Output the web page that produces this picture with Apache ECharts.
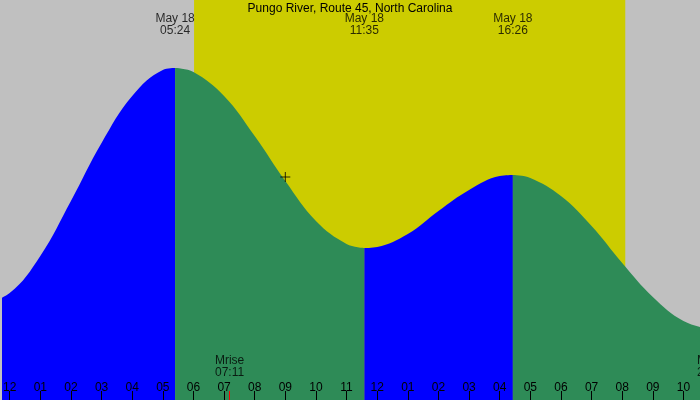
<!DOCTYPE html>
<html>
<head>
<meta charset="utf-8">
<script src="https://cdn.jsdelivr.net/npm/echarts@6/dist/echarts.min.js"></script>
<style>html,body{margin:0;padding:0;background:#c0c0c0}#chart{width:700px;height:400px}</style>
</head>
<body>
<div id="chart"></div>
<script>
// 潮位数据 (小时, 高度)
var rising1 = [[-1, 95], [0, 107], [1, 144], [2, 199], [3, 257], [4, 304], [5, 330], [5.4, 332]]
var falling1 = [[5.4, 332], [6, 328], [7, 304], [8, 264], [9, 219], [10, 179], [11, 156], [11.58, 152]]
var rising2 = [[11.58, 152], [12, 153], [13, 166], [14, 189], [15, 210], [16, 224], [16.43, 225]]
var falling2 = [[16.43, 225], [17, 222], [18, 204], [19, 174], [20, 137], [21, 103], [22, 79], [23, 70]]
var tideLabels = [[5.4, 'May 18\n05:24'], [11.58, 'May 18\n11:35'], [16.43, 'May 18\n16:26'], [22.9, 'May 18\n22:52']]
var hourTicks = [0, 1, 2, 3, 4, 5, 6, 7, 8, 9, 10, 11, 12, 13, 14, 15, 16, 17, 18, 19, 20, 21, 22]
var sunrise = 6.02, sunset = 20.1
var moonrise = 7.18, moonset = 22.44

var font = 'Liberation Sans'
var dom = document.getElementById('chart')
var myChart = echarts.init(dom)

function area(data, color) {
  return {
    type: 'line', data: data, symbol: 'none', smooth: 0.4, clip: false,
    lineStyle: { width: 0 }, areaStyle: { color: color, opacity: 1 }, z: 3
  }
}

var option = {
  backgroundColor: '#c0c0c0',
  animation: false,
  title: {
    text: 'Pungo River, Route 45, North Carolina', left: 'center', top: -2,
    textStyle: { fontFamily: font, fontSize: 12, fontWeight: 'normal', color: '#000' }
  },
  grid: { left: 0, right: 0, top: 0, bottom: 0 },
  xAxis: {
    type: 'value', min: -0.23, max: 22.54,
    axisLine: { show: false },
    splitLine: { show: false },
    axisTick: { inside: true, length: 9, customValues: hourTicks, lineStyle: { color: '#000' } },
    axisLabel: {
      inside: true, margin: 6, color: '#000', fontFamily: font, fontSize: 12,
      customValues: hourTicks,
      formatter: function (v) {
        var h = ((v % 12) + 12) % 12
        if (h === 0) h = 12
        return (h < 10 ? '0' : '') + h
      }
    },
    z: 10
  },
  yAxis: { type: 'value', min: 0, max: 400, show: false },
  series: [
    {
      type: 'line', data: [], silent: true,
      markArea: {
        silent: true,
        itemStyle: { color: '#cccc00' },
        data: [[{ xAxis: sunrise, yAxis: 0 }, { xAxis: sunset, yAxis: 400 }]]
      },
      z: 1
    },
    area(rising1, '#0000ff'),
    area(falling1, '#2e8b57'),
    area(rising2, '#0000ff'),
    area(falling2, '#2e8b57'),
    {
      type: 'scatter', symbolSize: 0, z: 12,
      data: tideLabels.map(function (d) { return { value: [d[0], 375], label: { formatter: d[1] } } }),
      label: { show: true, position: 'inside', color: '#000', fontFamily: font, fontSize: 12, lineHeight: 12 }
    },
    {
      type: 'scatter', symbolSize: 0, z: 12,
      data: [
        { value: [moonrise, 33], label: { formatter: 'Mrise\n07:11', align: 'center' } },
        { value: [moonset, 33], label: { formatter: 'Mset\n22:58', align: 'left' } }
      ],
      label: { show: true, position: 'inside', color: '#000', fontFamily: font, fontSize: 12, lineHeight: 12 }
    },
    {
      type: 'scatter', symbol: 'path://M5,0L5,10M0,5L10,5', symbolSize: 10, z: 12,
      itemStyle: { color: 'none', borderColor: '#000', borderWidth: 1 },
      data: [[9.0, 223]]
    },
    {
      type: 'line', data: [], z: 12,
      markLine: {
        silent: true, symbol: 'none', label: { show: false },
        lineStyle: { color: '#ff0000', type: 'solid', width: 1 },
        data: [[{ coord: [moonrise, 0] }, { coord: [moonrise, 9] }]]
      }
    }
  ]
}

myChart.setOption(option)
window.addEventListener('resize', myChart.resize)
</script>
</body>
</html>
